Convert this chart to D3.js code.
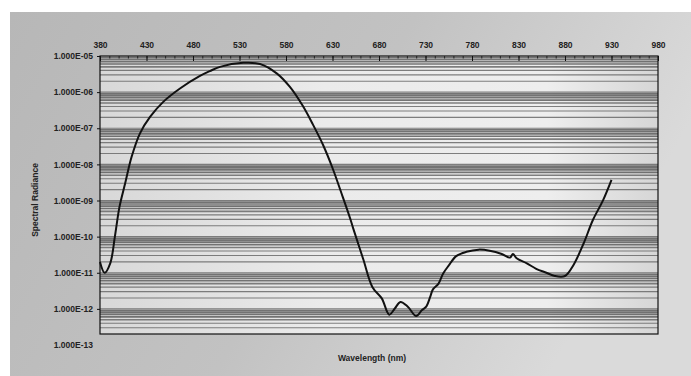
<!DOCTYPE html>
<html>
<head>
<meta charset="utf-8">
<script src="https://cdn.jsdelivr.net/npm/d3@7/dist/d3.min.js"></script>
<style>
  html, body { margin: 0; padding: 0; background: #fff; }
  svg { display: block; font-family: "Liberation Sans", Arial, sans-serif; }
</style>
</head>
<body>
<div id="chart"></div>
<script>
// wavelength (nm) and log10 of spectral radiance
const wavelength = [380, 385, 391, 396, 401, 407, 414, 423, 434, 448, 466, 487, 498, 509, 534, 552, 570, 584, 598, 609, 620, 630, 641, 649, 652, 663, 673, 683, 691, 697, 703, 711, 720, 726, 731, 735, 738, 744, 749, 755, 763, 774, 787, 799, 812, 821, 824, 828, 839, 849, 860, 869, 880, 889, 900, 910, 921, 930];
const logRadiance = [-10.70, -11.0, -10.74, -10.0, -9.17, -8.53, -7.79, -7.14, -6.68, -6.27, -5.90, -5.56, -5.42, -5.30, -5.19, -5.22, -5.48, -5.85, -6.38, -6.90, -7.47, -8.10, -8.90, -9.50, -9.75, -10.62, -11.40, -11.71, -12.16, -11.99, -11.81, -11.94, -12.20, -12.04, -11.93, -11.67, -11.46, -11.30, -11.02, -10.80, -10.54, -10.42, -10.36, -10.39, -10.48, -10.58, -10.48, -10.60, -10.74, -10.89, -11.0, -11.09, -11.09, -10.79, -10.19, -9.54, -8.99, -8.43];
const xTicks = [380, 430, 480, 530, 580, 630, 680, 730, 780, 830, 880, 930, 980];
const yTicks = [1e-5, 1e-6, 1e-7, 1e-8, 1e-9, 1e-10, 1e-11, 1e-12, 1e-13];

const W = 691, H = 376;
const plotLeft = 100, plotRight = 658, plotTop = 56, plotBottom = 334;

const svg = d3.select('#chart').append('svg')
  .attr('width', W).attr('height', H);

const defs = svg.append('defs');
const bg = defs.append('linearGradient').attr('id', 'bg')
  .attr('x1', 0).attr('y1', 0).attr('x2', 1).attr('y2', 0.3);
bg.append('stop').attr('offset', 0).attr('stop-color', '#b7b7b7');
bg.append('stop').attr('offset', 0.55).attr('stop-color', '#c2c2c2');
bg.append('stop').attr('offset', 1).attr('stop-color', '#dadada');

const plotBg = defs.append('linearGradient').attr('id', 'plotBg')
  .attr('x1', 0).attr('y1', 0).attr('x2', 1).attr('y2', 0);
plotBg.append('stop').attr('offset', 0).attr('stop-color', '#d8d8d8');
plotBg.append('stop').attr('offset', 0.4).attr('stop-color', '#ebebeb');
plotBg.append('stop').attr('offset', 0.8).attr('stop-color', '#eeeeee');
plotBg.append('stop').attr('offset', 1).attr('stop-color', '#d6d6d6');

// paper background
svg.append('rect').attr('x', 10).attr('y', 12).attr('width', W - 10).attr('height', H - 12)
  .attr('fill', 'url(#bg)');

const x = d3.scaleLinear().domain([380, 980]).range([plotLeft, plotRight]);
const y = d3.scaleLog().domain([1e-13, 1e-5]).range([345, plotTop]);

// plot area
svg.append('rect')
  .attr('x', plotLeft).attr('y', plotTop)
  .attr('width', plotRight - plotLeft).attr('height', plotBottom - plotTop)
  .attr('fill', 'url(#plotBg)');

// log gridlines: 1..9 x 10^n
const mant = d => Math.round(d / Math.pow(10, Math.floor(Math.log10(d) + 1e-9)));
const gridVals = [];
for (let e = -13; e < -5; e++) {
  for (let k = 1; k <= 9; k++) gridVals.push(k * Math.pow(10, e));
}
svg.append('g').selectAll('line')
  .data(gridVals.filter(v => y(v) <= plotBottom && y(v) >= plotTop))
  .enter().append('line')
  .attr('x1', plotLeft).attr('x2', plotRight)
  .attr('y1', d => y(d)).attr('y2', d => y(d))
  .attr('stroke', d => (mant(d) >= 6 ? '#5e5e5e' : '#6a6a6a'))
  .attr('stroke-width', d => (mant(d) >= 5 ? 1.7 : 1.2))
  .attr('stroke-opacity', 0.85);

// plot border
svg.append('rect')
  .attr('x', plotLeft).attr('y', plotTop)
  .attr('width', plotRight - plotLeft).attr('height', plotBottom - plotTop)
  .attr('fill', 'none').attr('stroke', '#111').attr('stroke-width', 1.2);

// top axis: minor ticks every 10 nm
svg.append('g')
  .attr('transform', `translate(0,${plotTop})`)
  .call(d3.axisTop(x).tickValues(d3.range(380, 981, 10)).tickSize(-2.5).tickFormat(''))
  .call(g => g.select('.domain').remove())
  .selectAll('line').attr('stroke', '#222');

svg.append('g')
  .attr('transform', `translate(0,${plotTop})`)
  .call(d3.axisTop(x).tickValues(xTicks).tickSize(-5).tickPadding(8).tickFormat(d3.format('d')))
  .call(g => g.select('.domain').remove())
  .call(g => g.selectAll('line').attr('stroke', '#111'))
  .selectAll('text')
  .style('font-size', '8.5px').style('font-weight', 'bold').attr('fill', '#222');

// left axis
const fmtE = v => {
  const e = Math.round(Math.log10(v));
  const s = Math.abs(e) < 10 ? '0' + Math.abs(e) : '' + Math.abs(e);
  return '1.000E' + (e < 0 ? '-' : '+') + s;
};
svg.append('g')
  .attr('transform', `translate(${plotLeft},0)`)
  .call(d3.axisLeft(y).tickValues(yTicks.filter(v => y(v) <= plotBottom)).tickSize(3).tickPadding(4).tickFormat(fmtE))
  .call(g => g.select('.domain').remove())
  .call(g => g.selectAll('line').attr('stroke', '#111'))
  .selectAll('text')
  .style('font-size', '8.5px').style('font-weight', 'bold').attr('fill', '#222');

// 1e-13 label sits below the frame
svg.append('text')
  .attr('x', plotLeft - 7).attr('y', y(1e-13)).attr('dy', '0.32em')
  .attr('text-anchor', 'end')
  .style('font-size', '8.5px').style('font-weight', 'bold').attr('fill', '#222')
  .text(fmtE(1e-13));

// curve
const pts = wavelength.map((w, i) => [w, Math.pow(10, logRadiance[i])]);
svg.append('path')
  .datum(pts)
  .attr('d', d3.line().x(d => x(d[0])).y(d => y(d[1])).curve(d3.curveCatmullRom.alpha(0.5)))
  .attr('fill', 'none').attr('stroke', '#111').attr('stroke-width', 2)
  .attr('stroke-linejoin', 'round');

// axis titles
svg.append('text')
  .attr('x', 372).attr('y', 361)
  .attr('text-anchor', 'middle')
  .style('font-size', '8.5px').style('font-weight', 'bold').attr('fill', '#222')
  .text('Wavelength (nm)');

svg.append('text')
  .attr('transform', `translate(38,200) rotate(-90)`)
  .attr('text-anchor', 'middle')
  .style('font-size', '8.5px').style('font-weight', 'bold').attr('fill', '#222')
  .text('Spectral Radiance');
</script>
</body>
</html>
